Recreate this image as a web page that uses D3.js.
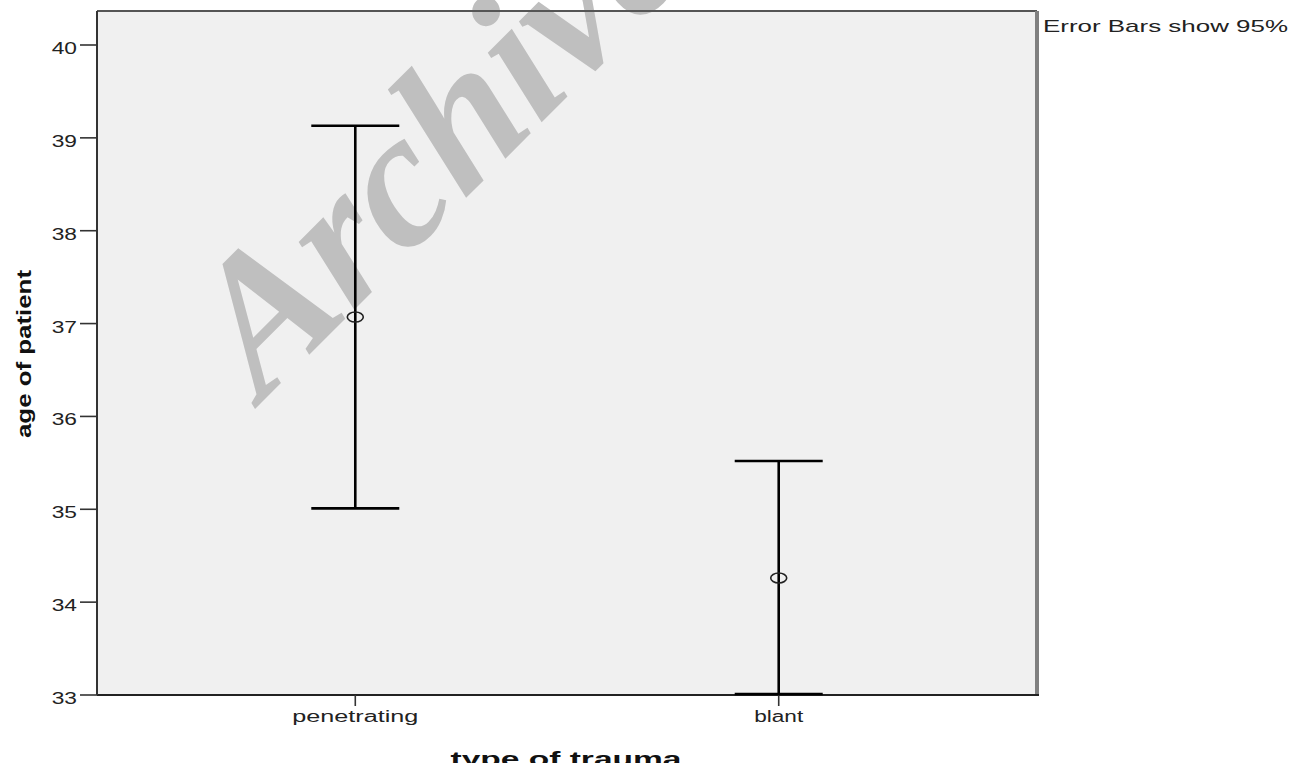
<!DOCTYPE html>
<html><head><meta charset="utf-8">
<script src="https://cdn.jsdelivr.net/npm/d3@7"></script>
<style>html,body{margin:0;padding:0;background:#fff;} svg{display:block;}</style>
</head><body>
<svg id="c" width="1290" height="763"></svg>
<script>
const categories = ["penetrating", "blant"];
const means = [37.07, 34.26];
const lower = [35.01, 33.01];
const upper = [39.13, 35.52];
const yTicks = [33, 34, 35, 36, 37, 38, 39, 40];
const xTitle = "type of trauma";
const yTitle = "age of patient";
const note = "Error Bars show 95%";
const watermark = "Archive";

const L = 97, R = 1037, T = 11, B = 695;
const SX = 1.42; // horizontal stretch of text seen in the reference
const svg = d3.select("#c");
const y = d3.scaleLinear().domain([33, 40]).range([B, 45]);
const x = d3.scalePoint().domain(categories).range([L, R]).padding(0.61);
const xLabelLen = {penetrating: 126, blant: 49};

function stretch(sel, len) {
  sel.each(function (d) {
    const w = typeof len === "function" ? len(d) : (len != null ? len : this.getComputedTextLength() * SX);
    d3.select(this).attr("textLength", w).attr("lengthAdjust", "spacingAndGlyphs");
  });
}

// plot background
svg.append("rect").attr("x", L).attr("y", T).attr("width", R - L).attr("height", B - T).attr("fill", "#f0f0f0");

// watermark
svg.append("text")
  .attr("transform", "translate(262,402) rotate(-45) skewX(-3)")
  .attr("font-family", "Liberation Serif, DejaVu Serif, serif")
  .attr("font-weight", "bold").attr("font-style", "italic")
  .attr("font-size", 190).attr("fill", "#bfbfbf")
  .text(watermark);

// border
svg.append("line").attr("x1", L).attr("x2", R).attr("y1", T).attr("y2", T).attr("stroke", "#555").attr("stroke-width", 2);
svg.append("line").attr("x1", R).attr("x2", R).attr("y1", T).attr("y2", B).attr("stroke", "#808080").attr("stroke-width", 4);
svg.append("line").attr("x1", L).attr("x2", R + 2).attr("y1", B).attr("y2", B).attr("stroke", "#222").attr("stroke-width", 2);
svg.append("line").attr("x1", L).attr("x2", L).attr("y1", T).attr("y2", B).attr("stroke", "#333").attr("stroke-width", 2);

// y axis ticks
const yg = svg.append("g");
yg.selectAll("line").data(yTicks).join("line")
  .attr("x1", 80).attr("x2", L).attr("y1", d => y(d)).attr("y2", d => y(d))
  .attr("stroke", "#333").attr("stroke-width", 1.6);
yg.selectAll("text").data(yTicks).join("text")
  .attr("x", 77).attr("y", d => y(d) + 9)
  .attr("text-anchor", "end")
  .attr("font-family", "Liberation Sans, Arial, sans-serif").attr("font-size", 16).attr("fill", "#222")
  .text(d => d).call(stretch);

// x axis ticks
const xg = svg.append("g");
xg.selectAll("line").data(categories).join("line")
  .attr("x1", d => x(d)).attr("x2", d => x(d)).attr("y1", B).attr("y2", B + 11)
  .attr("stroke", "#333").attr("stroke-width", 1.6);
xg.selectAll("text").data(categories).join("text")
  .attr("x", d => x(d)).attr("y", B + 27)
  .attr("text-anchor", "middle")
  .attr("font-family", "Liberation Sans, Arial, sans-serif").attr("font-size", 16).attr("fill", "#222")
  .text(d => d).call(stretch, d => xLabelLen[d]);

// error bars
const cap = 44;
const eb = svg.append("g");
categories.forEach((c, i) => {
  const cx = x(c);
  eb.append("line").attr("x1", cx).attr("x2", cx).attr("y1", y(upper[i])).attr("y2", y(lower[i]))
    .attr("stroke", "#000").attr("stroke-width", 2.6);
  [upper[i], lower[i]].forEach(v => {
    eb.append("line").attr("x1", cx - cap).attr("x2", cx + cap).attr("y1", y(v)).attr("y2", y(v))
      .attr("stroke", "#000").attr("stroke-width", 2.6);
  });
  eb.append("ellipse").attr("cx", cx).attr("cy", y(means[i])).attr("rx", 8).attr("ry", 5)
    .attr("fill", "none").attr("stroke", "#222").attr("stroke-width", 1.6);
});

// titles
svg.append("text").attr("x", 566).attr("y", 766).attr("text-anchor", "middle")
  .attr("font-family", "Liberation Sans, Arial, sans-serif").attr("font-weight", "bold")
  .attr("font-size", 21).attr("fill", "#111").text(xTitle).call(stretch, 231);

svg.append("text").attr("transform", "translate(31,354) rotate(-90)").attr("text-anchor", "middle")
  .attr("font-family", "Liberation Sans, Arial, sans-serif").attr("font-weight", "bold")
  .attr("font-size", 20).attr("fill", "#111").text(yTitle).call(stretch, 168);

svg.append("text").attr("x", 1043).attr("y", 32)
  .attr("font-family", "Liberation Sans, Arial, sans-serif")
  .attr("font-size", 17).attr("fill", "#222").text(note).call(stretch, 245);
</script>
</body></html>
